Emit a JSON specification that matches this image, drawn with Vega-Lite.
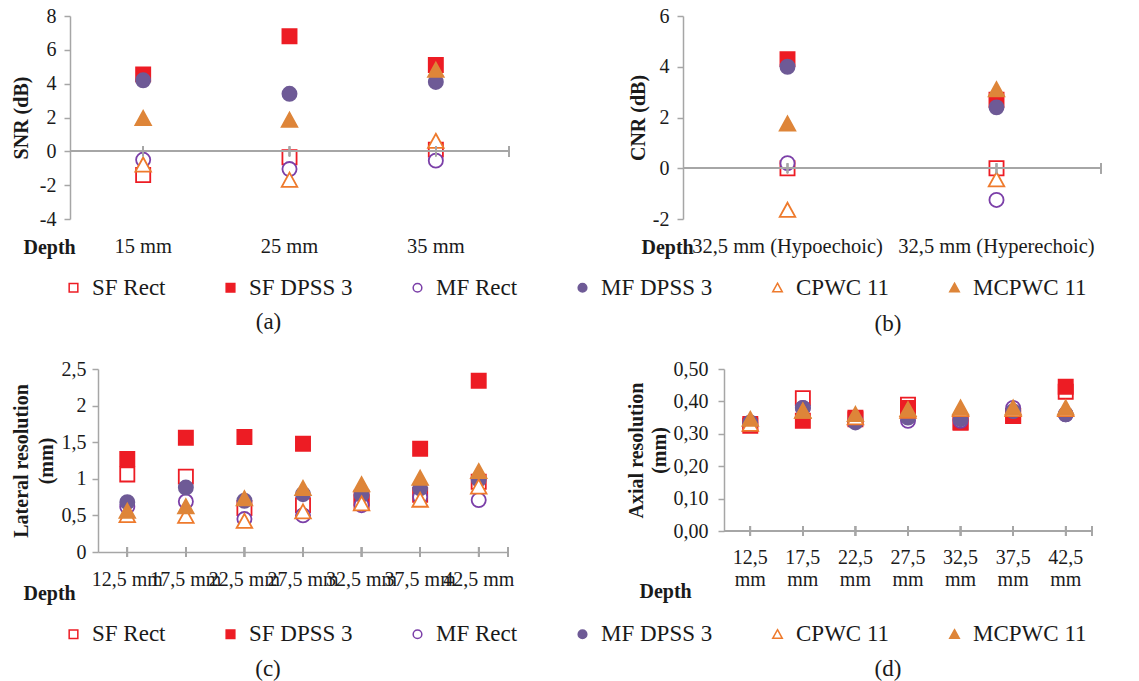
{
  "$schema": "https://vega.github.io/schema/vega-lite/v6.json",
  "background": "white",
  "padding": {"left": 10, "top": 6, "right": 5, "bottom": 5},
  "config": {
    "view": {"stroke": null},
    "font": "Liberation Serif",
    "axis": {"labelFont": "Liberation Serif", "titleFont": "Liberation Serif", "labelColor": "#1a1a1a", "titleColor": "#1a1a1a", "domainColor": "#A6A6A6", "tickColor": "#A6A6A6", "grid": false, "labelFontSize": 20, "titleFontSize": 20, "titleFontWeight": "bold", "domainWidth": 1.5, "tickWidth": 1.5, "labelOverlap": false},
    "legend": {"labelFont": "Liberation Serif", "labelFontSize": 23, "labelColor": "#1a1a1a", "symbolSize": 75, "symbolStrokeWidth": 1.5, "labelOffset": 7, "columnPadding": 53, "padding": 0},
    "title": {"font": "Liberation Serif", "fontSize": 23, "fontWeight": "normal", "color": "#1a1a1a"}
  },
  "datasets": {
    "snr": [
      {"depth": "15 mm", "series": "SF Rect", "v": -1.4},
      {"depth": "15 mm", "series": "SF DPSS 3", "v": 4.55},
      {"depth": "15 mm", "series": "MF Rect", "v": -0.5},
      {"depth": "15 mm", "series": "MF DPSS 3", "v": 4.2},
      {"depth": "15 mm", "series": "CPWC 11", "v": -0.8},
      {"depth": "15 mm", "series": "MCPWC 11", "v": 1.95},
      {"depth": "25 mm", "series": "SF Rect", "v": -0.35},
      {"depth": "25 mm", "series": "SF DPSS 3", "v": 6.8},
      {"depth": "25 mm", "series": "MF Rect", "v": -1.05},
      {"depth": "25 mm", "series": "MF DPSS 3", "v": 3.4},
      {"depth": "25 mm", "series": "CPWC 11", "v": -1.7},
      {"depth": "25 mm", "series": "MCPWC 11", "v": 1.85},
      {"depth": "35 mm", "series": "SF Rect", "v": 0.1},
      {"depth": "35 mm", "series": "SF DPSS 3", "v": 5.1},
      {"depth": "35 mm", "series": "MF Rect", "v": -0.55},
      {"depth": "35 mm", "series": "MF DPSS 3", "v": 4.1},
      {"depth": "35 mm", "series": "CPWC 11", "v": 0.6},
      {"depth": "35 mm", "series": "MCPWC 11", "v": 4.8}
    ],
    "cnr": [
      {"depth": "32,5 mm (Hypoechoic)", "series": "SF Rect", "v": 0},
      {"depth": "32,5 mm (Hypoechoic)", "series": "SF DPSS 3", "v": 4.3},
      {"depth": "32,5 mm (Hypoechoic)", "series": "MF Rect", "v": 0.2},
      {"depth": "32,5 mm (Hypoechoic)", "series": "MF DPSS 3", "v": 4.0},
      {"depth": "32,5 mm (Hypoechoic)", "series": "CPWC 11", "v": -1.65},
      {"depth": "32,5 mm (Hypoechoic)", "series": "MCPWC 11", "v": 1.75},
      {"depth": "32,5 mm (Hyperechoic)", "series": "SF Rect", "v": 0},
      {"depth": "32,5 mm (Hyperechoic)", "series": "SF DPSS 3", "v": 2.7},
      {"depth": "32,5 mm (Hyperechoic)", "series": "MF Rect", "v": -1.25},
      {"depth": "32,5 mm (Hyperechoic)", "series": "MF DPSS 3", "v": 2.4},
      {"depth": "32,5 mm (Hyperechoic)", "series": "CPWC 11", "v": -0.45},
      {"depth": "32,5 mm (Hyperechoic)", "series": "MCPWC 11", "v": 3.1}
    ],
    "res": [
      {"depth": "12,5", "series": "SF Rect", "lat": 1.06, "ax": 0.33},
      {"depth": "12,5", "series": "SF DPSS 3", "lat": 1.27, "ax": 0.325},
      {"depth": "12,5", "series": "MF Rect", "lat": 0.62, "ax": 0.33},
      {"depth": "12,5", "series": "MF DPSS 3", "lat": 0.68, "ax": 0.335},
      {"depth": "12,5", "series": "CPWC 11", "lat": 0.5, "ax": 0.33},
      {"depth": "12,5", "series": "MCPWC 11", "lat": 0.56, "ax": 0.345},
      {"depth": "17,5", "series": "SF Rect", "lat": 1.03, "ax": 0.41},
      {"depth": "17,5", "series": "SF DPSS 3", "lat": 1.56, "ax": 0.34},
      {"depth": "17,5", "series": "MF Rect", "lat": 0.69, "ax": 0.38},
      {"depth": "17,5", "series": "MF DPSS 3", "lat": 0.88, "ax": 0.38},
      {"depth": "17,5", "series": "CPWC 11", "lat": 0.49, "ax": 0.37},
      {"depth": "17,5", "series": "MCPWC 11", "lat": 0.62, "ax": 0.37},
      {"depth": "22,5", "series": "SF Rect", "lat": 0.6, "ax": 0.345},
      {"depth": "22,5", "series": "SF DPSS 3", "lat": 1.57, "ax": 0.35},
      {"depth": "22,5", "series": "MF Rect", "lat": 0.45, "ax": 0.34},
      {"depth": "22,5", "series": "MF DPSS 3", "lat": 0.7, "ax": 0.335},
      {"depth": "22,5", "series": "CPWC 11", "lat": 0.42, "ax": 0.35},
      {"depth": "22,5", "series": "MCPWC 11", "lat": 0.73, "ax": 0.36},
      {"depth": "27,5", "series": "SF Rect", "lat": 0.64, "ax": 0.39},
      {"depth": "27,5", "series": "SF DPSS 3", "lat": 1.48, "ax": 0.38},
      {"depth": "27,5", "series": "MF Rect", "lat": 0.5, "ax": 0.34},
      {"depth": "27,5", "series": "MF DPSS 3", "lat": 0.79, "ax": 0.35},
      {"depth": "27,5", "series": "CPWC 11", "lat": 0.55, "ax": 0.37},
      {"depth": "27,5", "series": "MCPWC 11", "lat": 0.87, "ax": 0.375},
      {"depth": "32,5", "series": "SF Rect", "lat": 0.68, "ax": 0.335},
      {"depth": "32,5", "series": "SF DPSS 3", "lat": 0.74, "ax": 0.335},
      {"depth": "32,5", "series": "MF Rect", "lat": 0.64, "ax": 0.34},
      {"depth": "32,5", "series": "MF DPSS 3", "lat": 0.78, "ax": 0.345},
      {"depth": "32,5", "series": "CPWC 11", "lat": 0.66, "ax": 0.375},
      {"depth": "32,5", "series": "MCPWC 11", "lat": 0.92, "ax": 0.38},
      {"depth": "37,5", "series": "SF Rect", "lat": 0.78, "ax": 0.355},
      {"depth": "37,5", "series": "SF DPSS 3", "lat": 1.41, "ax": 0.355},
      {"depth": "37,5", "series": "MF Rect", "lat": 0.75, "ax": 0.38},
      {"depth": "37,5", "series": "MF DPSS 3", "lat": 0.87, "ax": 0.37},
      {"depth": "37,5", "series": "CPWC 11", "lat": 0.71, "ax": 0.375},
      {"depth": "37,5", "series": "MCPWC 11", "lat": 1.01, "ax": 0.38},
      {"depth": "42,5", "series": "SF Rect", "lat": 0.96, "ax": 0.43},
      {"depth": "42,5", "series": "SF DPSS 3", "lat": 2.34, "ax": 0.445},
      {"depth": "42,5", "series": "MF Rect", "lat": 0.71, "ax": 0.36},
      {"depth": "42,5", "series": "MF DPSS 3", "lat": 0.99, "ax": 0.36},
      {"depth": "42,5", "series": "CPWC 11", "lat": 0.89, "ax": 0.375},
      {"depth": "42,5", "series": "MCPWC 11", "lat": 1.1, "ax": 0.38}
    ]
  },
  "spacing": 23,
  "resolve": {"scale": {"shape": "independent", "fill": "independent", "stroke": "independent"}},
  "vconcat": [
    {
      "bounds": "flush",
      "spacing": 174,
      "resolve": {"scale": {"shape": "independent", "fill": "independent", "stroke": "independent"}},
      "hconcat": [
        {
          "width": 439, "height": 203,
          "data": {"name": "snr"},
          "title": {"text": "(a)", "orient": "bottom", "anchor": "middle", "frame": "group", "dx": -21, "offset": 11},
          "layer": [
            {"mark": {"type": "point", "opacity": 1, "strokeWidth": 1.8, "size": 200},
             "encoding": {
               "x": {"field": "depth", "type": "nominal", "sort": null, "scale": {"paddingInner": 0, "paddingOuter": 0},
                 "axis": {"domain": false, "ticks": false, "labelAngle": 0, "labelPadding": 17, "labelFontSize": 20.5, "labelLimit": 400, "labelOverlap": false, "title": "Depth", "titleX": -47, "titleY": 28, "titleAlign": "left", "titleBaseline": "middle", "titleAngle": 0}},
               "y": {"field": "v", "type": "quantitative", "scale": {"domain": [-4, 8], "nice": false, "zero": false},
                 "axis": {"values": [-4, -2, 0, 2, 4, 6, 8], "tickCount": 20, "labelOverlap": false, "tickSize": 6, "labelPadding": 8, "labelExpr": "datum.value < 0 ? '-' + abs(datum.value) : '' + datum.value", "title": "SNR (dB)", "titleAngle": -90, "titleX": -49, "titleY": 101.5, "titleAlign": "center", "titleBaseline": "middle"}},
               "shape": {"field": "series", "type": "nominal", "sort": null, "scale": {"domain": ["SF Rect", "SF DPSS 3", "MF Rect", "MF DPSS 3", "CPWC 11", "MCPWC 11"], "range": ["square", "square", "circle", "circle", "M0,-1.05L1.1,0.95L-1.1,0.95Z", "M0,-1.05L1.1,0.95L-1.1,0.95Z"]},
                 "legend": {"title": null, "orient": "none", "legendX": -8, "legendY": 260, "direction": "horizontal", "columns": 6}},
               "fill": {"field": "series", "type": "nominal", "sort": null, "scale": {"domain": ["SF Rect", "SF DPSS 3", "MF Rect", "MF DPSS 3", "CPWC 11", "MCPWC 11"], "range": ["#ffffff", "#ED1C24", "#ffffff", "#6E5A96", "#ffffff", "#DE8539"]},
                 "legend": {"title": null, "orient": "none", "legendX": -8, "legendY": 260, "direction": "horizontal", "columns": 6}},
               "stroke": {"field": "series", "type": "nominal", "sort": null, "scale": {"domain": ["SF Rect", "SF DPSS 3", "MF Rect", "MF DPSS 3", "CPWC 11", "MCPWC 11"], "range": ["#ED1C24", "#ED1C24", "#7B3FA8", "#6E5A96", "#EE7A2C", "#DE8539"]},
                 "legend": {"title": null, "orient": "none", "legendX": -8, "legendY": 260, "direction": "horizontal", "columns": 6}}
             }},
            {"mark": {"type": "rule", "color": "#A6A6A6", "strokeWidth": 1.5}, "encoding": {"y": {"datum": 0}}},
            {"mark": {"type": "tick", "orient": "vertical", "size": 10, "thickness": 1.5, "color": "#A6A6A6", "opacity": 1}, "encoding": {"x": {"field": "depth", "type": "nominal", "sort": null}, "y": {"datum": 0}}},
            {"mark": {"type": "tick", "orient": "vertical", "size": 10, "thickness": 1.5, "color": "#A6A6A6", "opacity": 1}, "encoding": {"x": {"value": "width"}, "y": {"datum": 0}}}
          ]
        },
        {
          "width": 418, "height": 203,
          "data": {"name": "cnr"},
          "title": {"text": "(b)", "orient": "bottom", "anchor": "middle", "frame": "group", "dx": -4, "offset": 56},
          "layer": [
            {"mark": {"type": "point", "opacity": 1, "strokeWidth": 1.8, "size": 200},
             "encoding": {
               "x": {"field": "depth", "type": "nominal", "sort": null, "scale": {"paddingInner": 0, "paddingOuter": 0},
                 "axis": {"domain": false, "ticks": false, "labelAngle": 0, "labelPadding": 17, "labelFontSize": 20.5, "labelLimit": 400, "labelOverlap": false, "title": "Depth", "titleX": -42, "titleY": 28, "titleAlign": "left", "titleBaseline": "middle", "titleAngle": 0}},
               "y": {"field": "v", "type": "quantitative", "scale": {"domain": [-2, 6], "nice": false, "zero": false},
                 "axis": {"values": [-2, 0, 2, 4, 6], "tickCount": 20, "labelOverlap": false, "tickSize": 6, "labelPadding": 8, "labelExpr": "datum.value < 0 ? '-' + abs(datum.value) : '' + datum.value", "title": "CNR (dB)", "titleAngle": -90, "titleX": -45, "titleY": 101.5, "titleAlign": "center", "titleBaseline": "middle"}},
               "shape": {"field": "series", "type": "nominal", "sort": null, "legend": null, "scale": {"domain": ["SF Rect", "SF DPSS 3", "MF Rect", "MF DPSS 3", "CPWC 11", "MCPWC 11"], "range": ["square", "square", "circle", "circle", "M0,-1.05L1.1,0.95L-1.1,0.95Z", "M0,-1.05L1.1,0.95L-1.1,0.95Z"]}},
               "fill": {"field": "series", "type": "nominal", "sort": null, "legend": null, "scale": {"domain": ["SF Rect", "SF DPSS 3", "MF Rect", "MF DPSS 3", "CPWC 11", "MCPWC 11"], "range": ["#ffffff", "#ED1C24", "#ffffff", "#6E5A96", "#ffffff", "#DE8539"]}},
               "stroke": {"field": "series", "type": "nominal", "sort": null, "legend": null, "scale": {"domain": ["SF Rect", "SF DPSS 3", "MF Rect", "MF DPSS 3", "CPWC 11", "MCPWC 11"], "range": ["#ED1C24", "#ED1C24", "#7B3FA8", "#6E5A96", "#EE7A2C", "#DE8539"]}}
             }},
            {"mark": {"type": "rule", "color": "#A6A6A6", "strokeWidth": 1.5}, "encoding": {"y": {"datum": 0}}},
            {"mark": {"type": "tick", "orient": "vertical", "size": 10, "thickness": 1.5, "color": "#A6A6A6", "opacity": 1}, "encoding": {"x": {"field": "depth", "type": "nominal", "sort": null}, "y": {"datum": 0}}},
            {"mark": {"type": "tick", "orient": "vertical", "size": 10, "thickness": 1.5, "color": "#A6A6A6", "opacity": 1}, "encoding": {"x": {"value": "width"}, "y": {"datum": 0}}}
          ]
        }
      ]
    },
    {
      "bounds": "flush",
      "spacing": 216,
      "resolve": {"scale": {"shape": "independent", "fill": "independent", "stroke": "independent"}},
      "hconcat": [
        {
          "width": 438, "height": 183,
          "data": {"name": "res"},
          "title": {"text": "(c)", "orient": "bottom", "anchor": "middle", "frame": "group", "dx": -21, "offset": 11},
          "layer": [
            {"mark": {"type": "point", "opacity": 1, "strokeWidth": 1.8, "size": 200},
             "encoding": {
               "x": {"field": "depth", "type": "nominal", "sort": null, "scale": {"range": [28, 438], "paddingInner": 0, "paddingOuter": 0},
                 "axis": {"domain": true, "ticks": false, "labelAngle": 0, "labelPadding": 17, "labelLimit": 400, "labelOverlap": false, "labelExpr": "datum.label + ' mm'", "title": "Depth", "titleX": -47, "titleY": 41, "titleAlign": "left", "titleBaseline": "middle", "titleAngle": 0}},
               "y": {"field": "lat", "type": "quantitative", "scale": {"domain": [0, 2.5], "nice": false, "zero": false},
                 "axis": {"offset": -28, "values": [0, 0.5, 1, 1.5, 2, 2.5], "tickCount": 20, "labelOverlap": false, "tickSize": 6, "labelPadding": 6, "labelExpr": "replace('' + datum.value, '.', ',')", "title": ["Lateral resolution", "(mm)"], "titleLineHeight": 25, "titleAngle": -90, "titleX": -77, "titleY": 91.5, "titleAlign": "center", "titleBaseline": "middle"}},
               "shape": {"field": "series", "type": "nominal", "sort": null, "scale": {"domain": ["SF Rect", "SF DPSS 3", "MF Rect", "MF DPSS 3", "CPWC 11", "MCPWC 11"], "range": ["square", "square", "circle", "circle", "M0,-1.05L1.1,0.95L-1.1,0.95Z", "M0,-1.05L1.1,0.95L-1.1,0.95Z"]},
                 "legend": {"title": null, "orient": "none", "legendX": -8, "legendY": 253.5, "direction": "horizontal", "columns": 6}},
               "fill": {"field": "series", "type": "nominal", "sort": null, "scale": {"domain": ["SF Rect", "SF DPSS 3", "MF Rect", "MF DPSS 3", "CPWC 11", "MCPWC 11"], "range": ["#ffffff", "#ED1C24", "#ffffff", "#6E5A96", "#ffffff", "#DE8539"]},
                 "legend": {"title": null, "orient": "none", "legendX": -8, "legendY": 253.5, "direction": "horizontal", "columns": 6}},
               "stroke": {"field": "series", "type": "nominal", "sort": null, "scale": {"domain": ["SF Rect", "SF DPSS 3", "MF Rect", "MF DPSS 3", "CPWC 11", "MCPWC 11"], "range": ["#ED1C24", "#ED1C24", "#7B3FA8", "#6E5A96", "#EE7A2C", "#DE8539"]},
                 "legend": {"title": null, "orient": "none", "legendX": -8, "legendY": 253.5, "direction": "horizontal", "columns": 6}}
             }},
            {"mark": {"type": "tick", "orient": "vertical", "size": 10, "thickness": 1.5, "color": "#A6A6A6", "opacity": 1}, "encoding": {"x": {"field": "depth", "type": "nominal", "sort": null}, "y": {"datum": 0}}},
            {"mark": {"type": "tick", "orient": "vertical", "size": 10, "thickness": 1.5, "color": "#A6A6A6", "opacity": 1}, "encoding": {"x": {"value": "width"}, "y": {"datum": 0}}}
          ]
        },
        {
          "width": 368, "height": 162,
          "data": {"name": "res"},
          "title": {"text": "(d)", "orient": "bottom", "anchor": "middle", "frame": "group", "dx": -20, "offset": 57},
          "layer": [
            {"mark": {"type": "point", "opacity": 1, "strokeWidth": 1.8, "size": 200},
             "encoding": {
               "x": {"field": "depth", "type": "nominal", "sort": null, "scale": {"paddingInner": 0, "paddingOuter": 0},
                 "axis": {"domain": false, "ticks": false, "labelAngle": 0, "labelPadding": 16, "labelLineHeight": 22, "labelLimit": 400, "labelOverlap": false, "labelExpr": "[datum.label, 'mm']", "title": "Depth", "titleX": -85, "titleY": 60, "titleAlign": "left", "titleBaseline": "middle", "titleAngle": 0}},
               "y": {"field": "ax", "type": "quantitative", "scale": {"domain": [0, 0.5], "nice": false, "zero": false},
                 "axis": {"values": [0, 0.1, 0.2, 0.3, 0.4, 0.5], "tickCount": 20, "labelOverlap": false, "tickSize": 6, "labelPadding": 10, "labelExpr": "replace(format(datum.value, '.2f'), '.', ',')", "title": ["Axial resolution", "(mm)"], "titleLineHeight": 23, "titleAngle": -90, "titleX": -88, "titleY": 81, "titleAlign": "center", "titleBaseline": "middle"}},
               "shape": {"field": "series", "type": "nominal", "sort": null, "legend": null, "scale": {"domain": ["SF Rect", "SF DPSS 3", "MF Rect", "MF DPSS 3", "CPWC 11", "MCPWC 11"], "range": ["square", "square", "circle", "circle", "M0,-1.05L1.1,0.95L-1.1,0.95Z", "M0,-1.05L1.1,0.95L-1.1,0.95Z"]}},
               "fill": {"field": "series", "type": "nominal", "sort": null, "legend": null, "scale": {"domain": ["SF Rect", "SF DPSS 3", "MF Rect", "MF DPSS 3", "CPWC 11", "MCPWC 11"], "range": ["#ffffff", "#ED1C24", "#ffffff", "#6E5A96", "#ffffff", "#DE8539"]}},
               "stroke": {"field": "series", "type": "nominal", "sort": null, "legend": null, "scale": {"domain": ["SF Rect", "SF DPSS 3", "MF Rect", "MF DPSS 3", "CPWC 11", "MCPWC 11"], "range": ["#ED1C24", "#ED1C24", "#7B3FA8", "#6E5A96", "#EE7A2C", "#DE8539"]}}
             }},
            {"mark": {"type": "rule", "color": "#A6A6A6", "strokeWidth": 1.5}, "encoding": {"y": {"datum": 0}}},
            {"mark": {"type": "tick", "orient": "vertical", "size": 10, "thickness": 1.5, "color": "#A6A6A6", "opacity": 1}, "encoding": {"x": {"field": "depth", "type": "nominal", "sort": null}, "y": {"datum": 0}}},
            {"mark": {"type": "tick", "orient": "vertical", "size": 10, "thickness": 1.5, "color": "#A6A6A6", "opacity": 1}, "encoding": {"x": {"value": "width"}, "y": {"datum": 0}}}
          ]
        }
      ]
    }
  ]
}
